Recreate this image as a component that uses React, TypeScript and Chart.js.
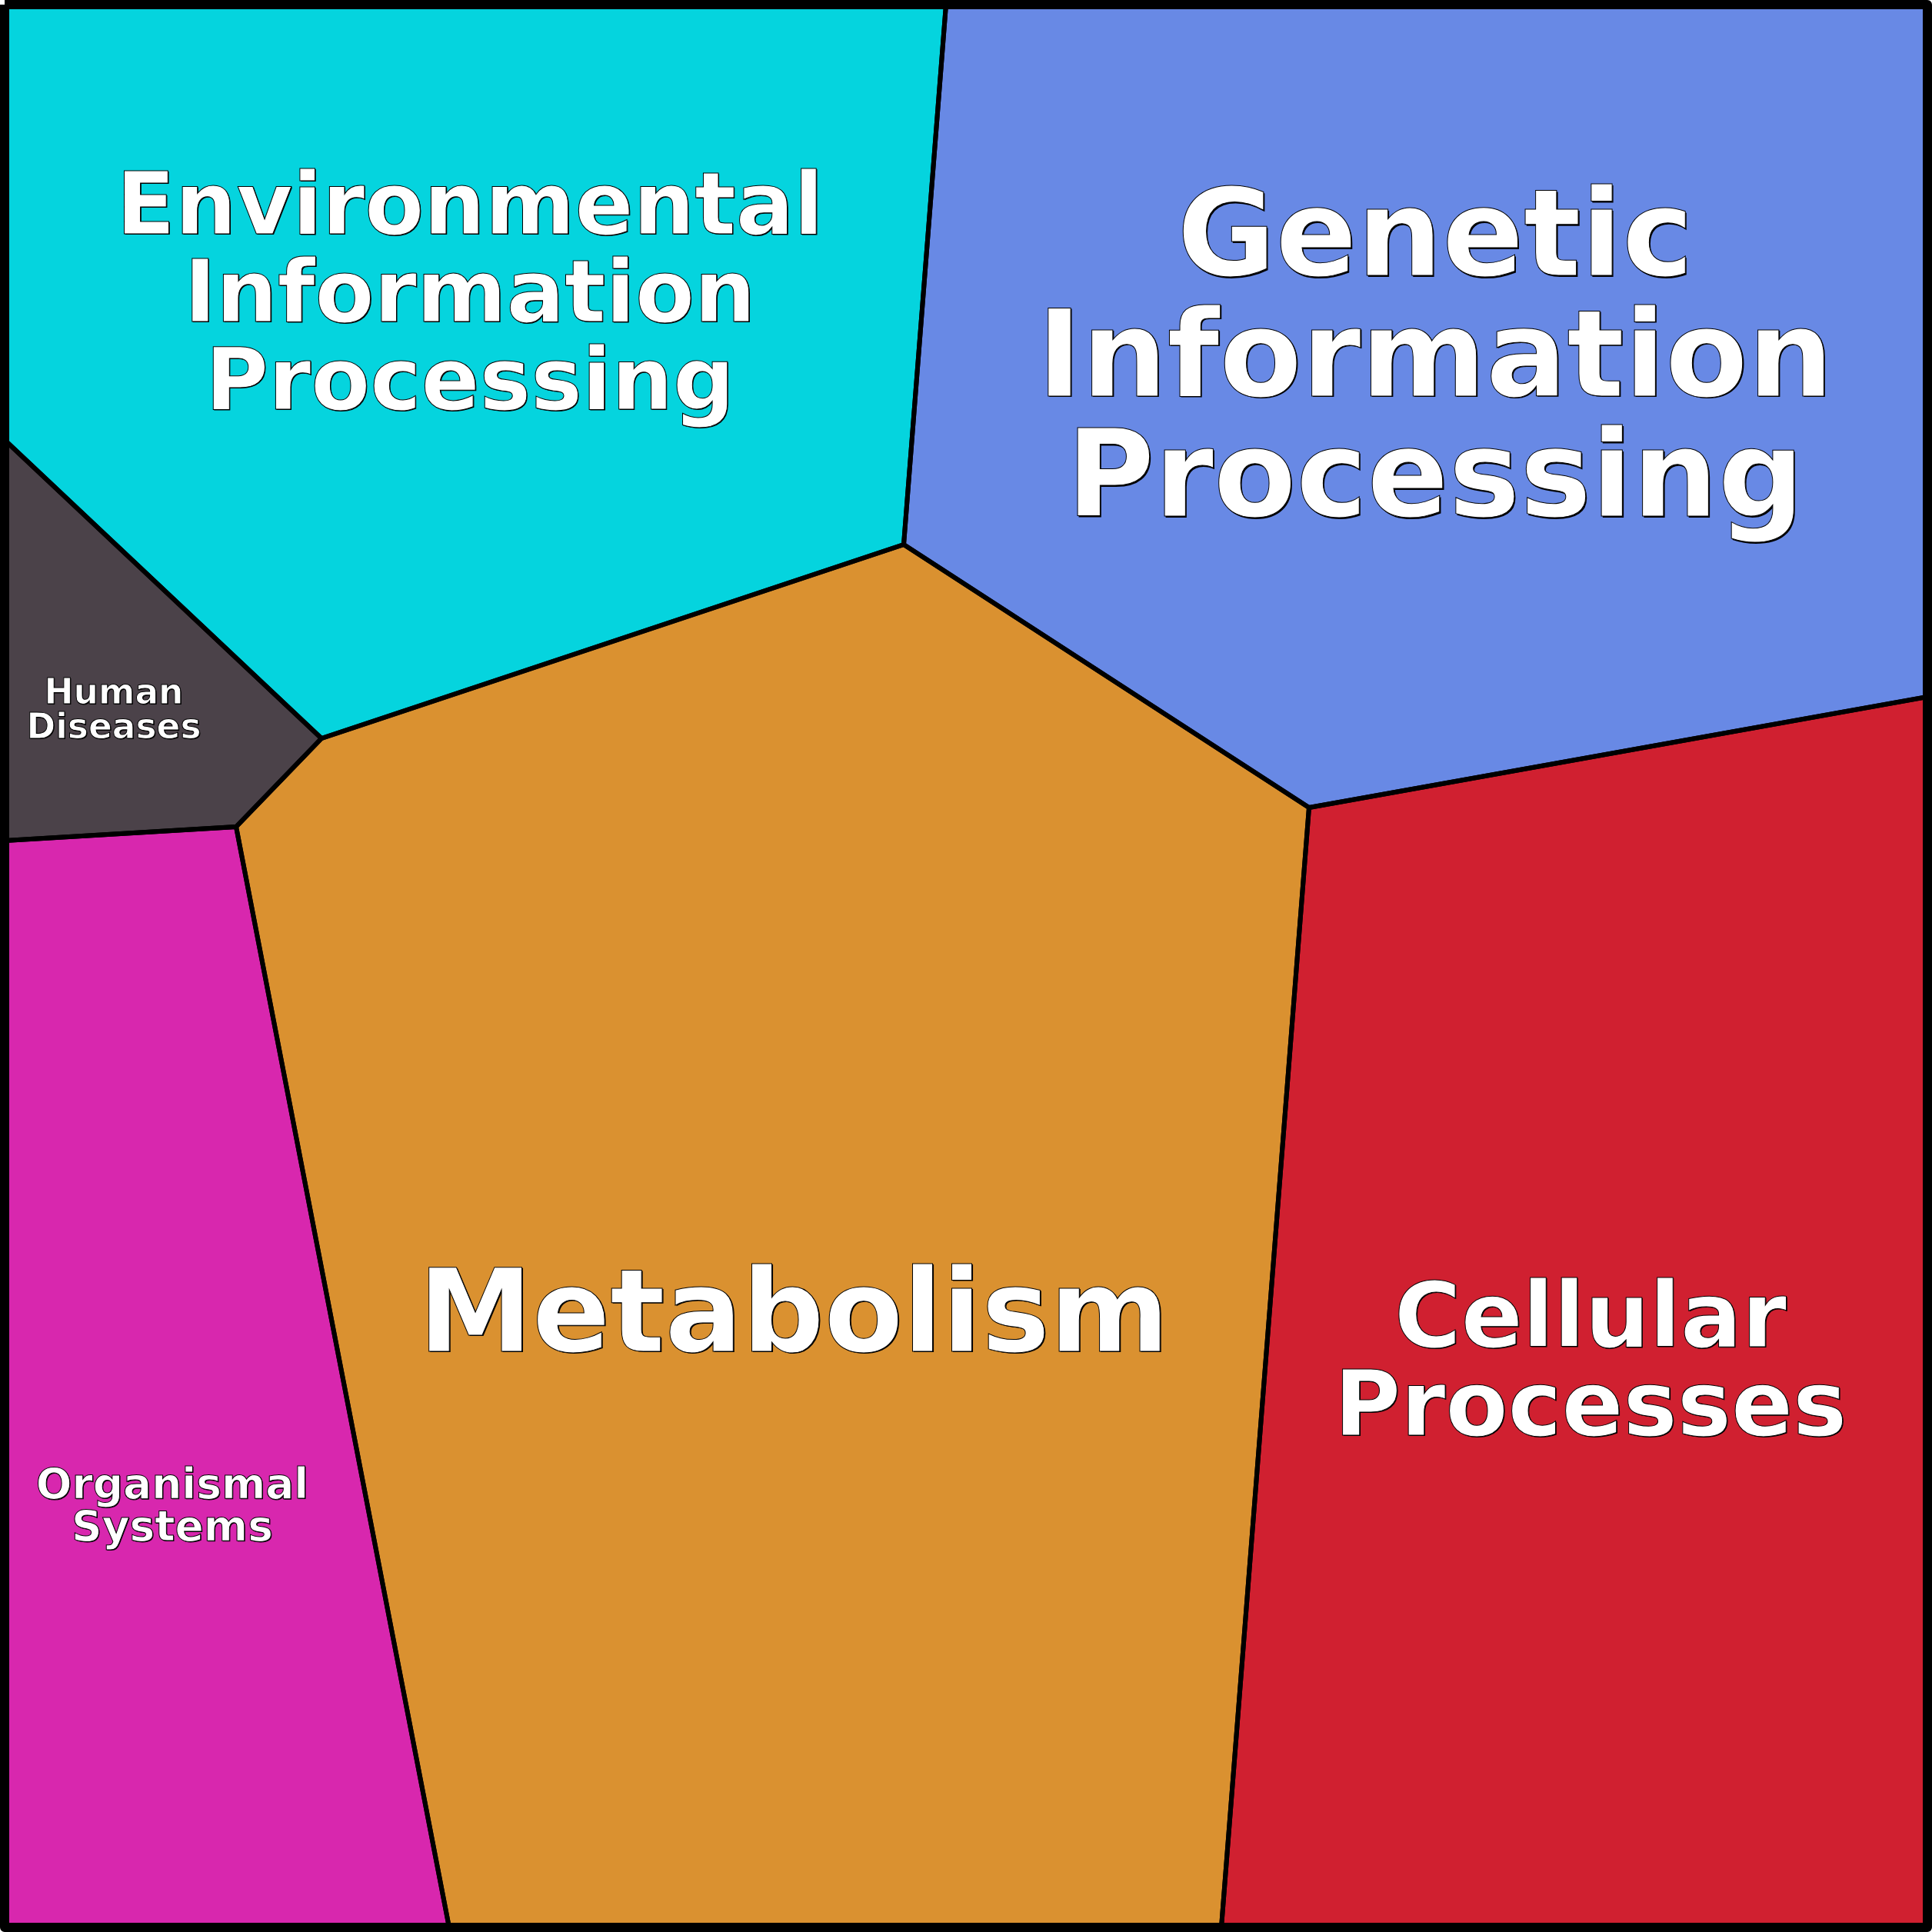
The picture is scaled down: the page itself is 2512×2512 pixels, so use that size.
import React, { useEffect, useRef } from "react";
import { Chart, registerables } from "chart.js";

Chart.register(...registerables);

// Voronoi treemap cells (data units: 0..2512 square)
const categories = [
  "Environmental Information Processing",
  "Genetic Information Processing",
  "Metabolism",
  "Cellular Processes",
  "Human Diseases",
  "Organismal Systems",
];
const cellColors = ["#05D4DE", "#6889E5", "#DA9130", "#D02030", "#4B4249", "#D827AE"];

const envX = [6, 1230, 1175, 418, 6];
const envY = [6, 6, 708, 960, 572];
const genX = [1230, 2506, 2506, 1702, 1175];
const genY = [6, 6, 906, 1050, 708];
const metX = [1175, 1702, 1588, 584, 307, 418];
const metY = [708, 1050, 2506, 2506, 1075, 960];
const celX = [1702, 2506, 2506, 1588];
const celY = [1050, 906, 2506, 2506];
const humX = [6, 418, 307, 6];
const humY = [572, 960, 1075, 1093];
const orgX = [6, 307, 584, 6];
const orgY = [1093, 1075, 2506, 2506];
const frameX = [6, 2506, 2506, 6];
const frameY = [6, 6, 2506, 2506];

const cellXs = [envX, genX, metX, celX, humX, orgX];
const cellYs = [envY, genY, metY, celY, humY, orgY];

// Labels
const labelLines = [
  ["Environmental", "Information", "Processing"],
  ["Genetic", "Information", "Processing"],
  ["Metabolism"],
  ["Cellular", "Processes"],
  ["Human", "Diseases"],
  ["Organismal", "Systems"],
];
const labelX = [611, 1866, 1032, 2068, 148, 224];
const labelFirstBaseline = [304, 358, 1757, 1751, 915, 1948];
const labelFontSize = [112, 156, 149, 118, 45.5, 55];
const labelLineStep = [114, 156.5, 0, 115, 45, 54.5];

const closed = (xs: number[], ys: number[]) => {
  const pts = xs.map((x, i) => ({ x, y: ys[i] }));
  pts.push({ x: xs[0], y: ys[0] });
  return pts;
};

const labelPlugin = {
  id: "cellLabels",
  afterDatasetsDraw(chart: any) {
    const ctx = chart.ctx;
    const xs = chart.scales.x;
    const ys = chart.scales.y;
    ctx.save();
    ctx.textAlign = "center";
    ctx.textBaseline = "alphabetic";
    labelLines.forEach((lines, i) => {
      const size = labelFontSize[i];
      ctx.font = `bold ${size}px "DejaVu Sans"`;
      lines.forEach((line, j) => {
        const px = xs.getPixelForValue(labelX[i]);
        const py = ys.getPixelForValue(labelFirstBaseline[i] + j * labelLineStep[i]);
        const off = Math.max(1, size / 100);
        ctx.fillStyle = "#000000";
        ctx.fillText(line, px + off, py + off);
        ctx.fillStyle = "#FFFFFF";
        ctx.fillText(line, px, py);
        ctx.lineWidth = 1;
        ctx.strokeStyle = "#000000";
        ctx.strokeText(line, px, py);
      });
    });
    ctx.restore();
  },
};

export default function App() {
  const ref = useRef<HTMLCanvasElement>(null);
  useEffect(() => {
    if (!ref.current) return;
    const datasets: any[] = categories.map((name, i) => ({
      label: name,
      data: closed(cellXs[i], cellYs[i]),
      showLine: true,
      fill: "shape",
      backgroundColor: cellColors[i],
      borderColor: "#000000",
      borderWidth: 6,
      borderJoinStyle: "miter",
      pointRadius: 0,
      pointHoverRadius: 0,
      tension: 0,
    }));
    datasets.push({
      label: "frame",
      data: closed(frameX, frameY),
      showLine: true,
      fill: false,
      borderColor: "#000000",
      borderWidth: 12,
      borderJoinStyle: "round",
      pointRadius: 0,
      pointHoverRadius: 0,
      tension: 0,
    });
    const chart = new Chart(ref.current, {
      type: "scatter",
      data: { datasets },
      options: {
        animation: false,
        responsive: false,
        maintainAspectRatio: false,
        devicePixelRatio: 1,
        layout: { padding: 0 },
        scales: {
          x: { type: "linear", min: 0, max: 2512, display: false },
          y: { type: "linear", min: 0, max: 2512, reverse: true, display: false },
        },
        plugins: {
          legend: { display: false },
          tooltip: { enabled: false },
          filler: { drawTime: "beforeDatasetsDraw" },
        } as any,
      },
      plugins: [labelPlugin],
    });
    return () => chart.destroy();
  }, []);
  return (
    <div style={{ position: "fixed", left: 0, top: 0, width: 2512, height: 2512, background: "#fff" }}>
      <canvas ref={ref} width={2512} height={2512} style={{ width: 2512, height: 2512 }} />
    </div>
  );
}
